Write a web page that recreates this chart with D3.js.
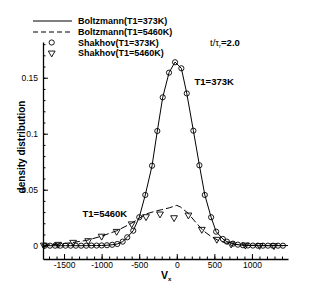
<html>
<head>
<script src="https://d3js.org/d3.v7.min.js"></script>
<style>
  body { margin: 0; background: #fff; }
  svg text { font-family: "Liberation Sans", Arial, sans-serif; fill: #000; }
</style>
</head>
<body>
<div id="chart"></div>
<script>
// Shakhov / Boltzmann at T1=373K share the same velocity grid
var v373 = [-1756, -1687, -1619, -1549, -1480, -1412, -1343, -1273, -1205, -1136, -1067, -999, -929, -860, -792,
            -720, -659, -579, -499, -419, -329, -259, -187, -103, -23, 61, 133, 221, 301, 373, 457, 524, 613, 667,
            747, 813, 880, 947, 1013, 1080, 1147, 1213, 1280, 1347, 1413];
var shakhov373 = [0, 0, 0, 0, 0, 0, 0, 0, 0, 0.0001, 0.0001, 0.0002, 0.0004, 0.0008, 0.0015,
                  0.0036, 0.0075, 0.0134, 0.0254, 0.0453, 0.0714, 0.1024, 0.1325, 0.1545, 0.1638, 0.1584, 0.1360, 0.1027, 0.0718, 0.0453, 0.0254, 0.0125, 0.0060, 0.0036,
                  0.0018, 0.0009, 0.0004, 0.0002, 0.0001, 0, 0, 0, 0, 0, 0];
var boltz373 = [0, 0, 0, 0, 0, 0, 0, 0, 0, 0.0001, 0.0001, 0.0002, 0.0004, 0.0008, 0.0015,
                0.0036, 0.0075, 0.0134, 0.0254, 0.0453, 0.0714, 0.1024, 0.1325, 0.1545, 0.1640, 0.1584, 0.1360, 0.1027, 0.0718, 0.0453, 0.0254, 0.0125, 0.0060, 0.0036,
                0.0018, 0.0009, 0.0004, 0.0002, 0.0001, 0, 0, 0, 0, 0, 0];

// Boltzmann T1=5460K (dashed)
var vBoltz5460 = [-1780, -1600, -1400, -1200, -1000, -800, -600, -500, -400, -300, -200, -100, 0, 50, 150, 250, 350, 450, 550, 650, 800, 1000, 1200, 1480];
var boltz5460 = [0.0004, 0.0012, 0.0027, 0.0047, 0.0085, 0.0133, 0.0200, 0.0245, 0.0285, 0.0305, 0.0322, 0.0338, 0.0360, 0.0345, 0.0290, 0.0210, 0.0135, 0.0085, 0.0048, 0.0024, 0.0010, 0.0004, 0.0002, 0.0001];

// Shakhov T1=5460K (triangles)
var vShakhov5460 = [-1769, -1579, -1379, -1179, -1000, -800, -600, -409, -223, -36, 155, 333, 533, 723, 913, 1103, 1293];
var shakhov5460 = [0.0005, 0.0012, 0.0030, 0.0045, 0.0085, 0.0128, 0.0195, 0.0259, 0.0283, 0.0250, 0.0274, 0.0146, 0.0057, 0.0015, 0.0005, 0.0002, 0];

var xMajor = [-1500, -1000, -500, 0, 500, 1000];
var yMajor = [0, 0.05, 0.1, 0.15];
var legendLabels = ["Boltzmann(T1=373K)", "Boltzmann(T1=5460K)", "Shakhov(T1=373K)", "Shakhov(T1=5460K)"];

var W = 327, H = 291;
var svg = d3.select("#chart").append("svg").attr("width", W).attr("height", H);

var x = d3.scaleLinear().domain([-1780, 1480]).range([43, 288]);
var y = d3.scaleLinear().domain([-0.0119, 0.1819]).range([259, 42]);

// minor ticks
svg.append("g").attr("transform", "translate(0,259)")
  .call(d3.axisBottom(x).tickValues(d3.range(-1700, 1500, 100)).tickSize(-2.5).tickFormat(""))
  .call(g => g.select(".domain").remove());
svg.append("g").attr("transform", "translate(43,0)")
  .call(d3.axisLeft(y).tickValues(d3.range(0, 0.181, 0.01)).tickSize(-2.5).tickFormat(""))
  .call(g => g.select(".domain").remove());

// major axes
var xAxis = svg.append("g").attr("transform", "translate(0,259)")
  .call(d3.axisBottom(x).tickValues(xMajor).tickSizeInner(-5).tickSizeOuter(0).tickPadding(3).tickFormat(d3.format("d")));
var yAxis = svg.append("g").attr("transform", "translate(43,0)")
  .call(d3.axisLeft(y).tickValues(yMajor).tickSizeInner(-5).tickSizeOuter(0).tickPadding(5).tickFormat(d => d === 0 ? "0" : String(d)));
[xAxis, yAxis].forEach(g => {
  g.selectAll("text").style("font-size", "8.5px").style("font-family", "Liberation Sans, Arial, sans-serif").attr("fill", "#000");
  g.selectAll("line").attr("stroke", "#000");
  g.select(".domain").attr("stroke", "#000").attr("stroke-width", 1.3);
});
xAxis.selectAll("text").text(d => d < 0 ? "-" + Math.abs(d) : d);

// curves
var line = d3.line().x(d => x(d[0])).y(d => y(d[1]));
svg.append("path").datum(d3.zip(v373, boltz373)).attr("d", line)
  .attr("fill", "none").attr("stroke", "#000").attr("stroke-width", 1);
svg.append("path").datum(d3.zip(vBoltz5460, boltz5460)).attr("d", line)
  .attr("fill", "none").attr("stroke", "#000").attr("stroke-width", 1).attr("stroke-dasharray", "7,3");

var tri = d3.symbol().type(d3.symbolTriangle).size(20);
svg.selectAll(".c373").data(d3.zip(v373, shakhov373)).enter().append("circle")
  .attr("cx", d => x(d[0])).attr("cy", d => y(d[1])).attr("r", 2.6)
  .attr("fill", "none").attr("stroke", "#000").attr("stroke-width", 0.9);
svg.selectAll(".t5460").data(d3.zip(vShakhov5460, shakhov5460)).enter().append("path")
  .attr("d", tri).attr("transform", d => "translate(" + x(d[0]) + "," + y(d[1]) + ") rotate(180)")
  .attr("fill", "none").attr("stroke", "#000").attr("stroke-width", 0.9);

// legend
var lg = svg.append("g");
lg.append("line").attr("x1", 33).attr("x2", 72).attr("y1", 21).attr("y2", 21).attr("stroke", "#000");
lg.append("line").attr("x1", 33).attr("x2", 72).attr("y1", 32).attr("y2", 32).attr("stroke", "#000").attr("stroke-dasharray", "5,3");
lg.append("circle").attr("cx", 51.7).attr("cy", 42.5).attr("r", 2.6).attr("fill", "none").attr("stroke", "#000").attr("stroke-width", 0.9);
lg.append("path").attr("d", tri).attr("transform", "translate(51.7,53) rotate(180)").attr("fill", "none").attr("stroke", "#000").attr("stroke-width", 0.9);
lg.selectAll("text").data(legendLabels).enter().append("text")
  .attr("x", 78).attr("y", (d, i) => 24.3 + i * 10.7)
  .style("font-size", "9px").style("font-weight", "bold").text(d => d);

// annotations
var tt = svg.append("text").attr("x", 210).attr("y", 45.5).style("font-size", "9.5px");
tt.append("tspan").text("t/τ");
tt.append("tspan").attr("dy", 2).style("font-size", "6px").text("r");
tt.append("tspan").attr("dy", -2).style("font-weight", "bold").text("=2.0");

svg.append("text").attr("x", 194.5).attr("y", 85.3).style("font-size", "9.5px").style("font-weight", "bold").text("T1=373K");
svg.append("text").attr("x", 82.5).attr("y", 216.8).style("font-size", "9.5px").style("font-weight", "bold").text("T1=5460K");

var xl = svg.append("text").attr("x", 161).attr("y", 278.5).style("font-size", "10.5px").style("font-weight", "bold");
xl.append("tspan").text("V");
xl.append("tspan").attr("dy", 2).style("font-size", "6px").text("x");

svg.append("text").attr("transform", "translate(24.5,147) rotate(-90)").attr("text-anchor", "middle")
  .style("font-size", "10px").style("font-weight", "bold").text("density distribution");
</script>
</body>
</html>
